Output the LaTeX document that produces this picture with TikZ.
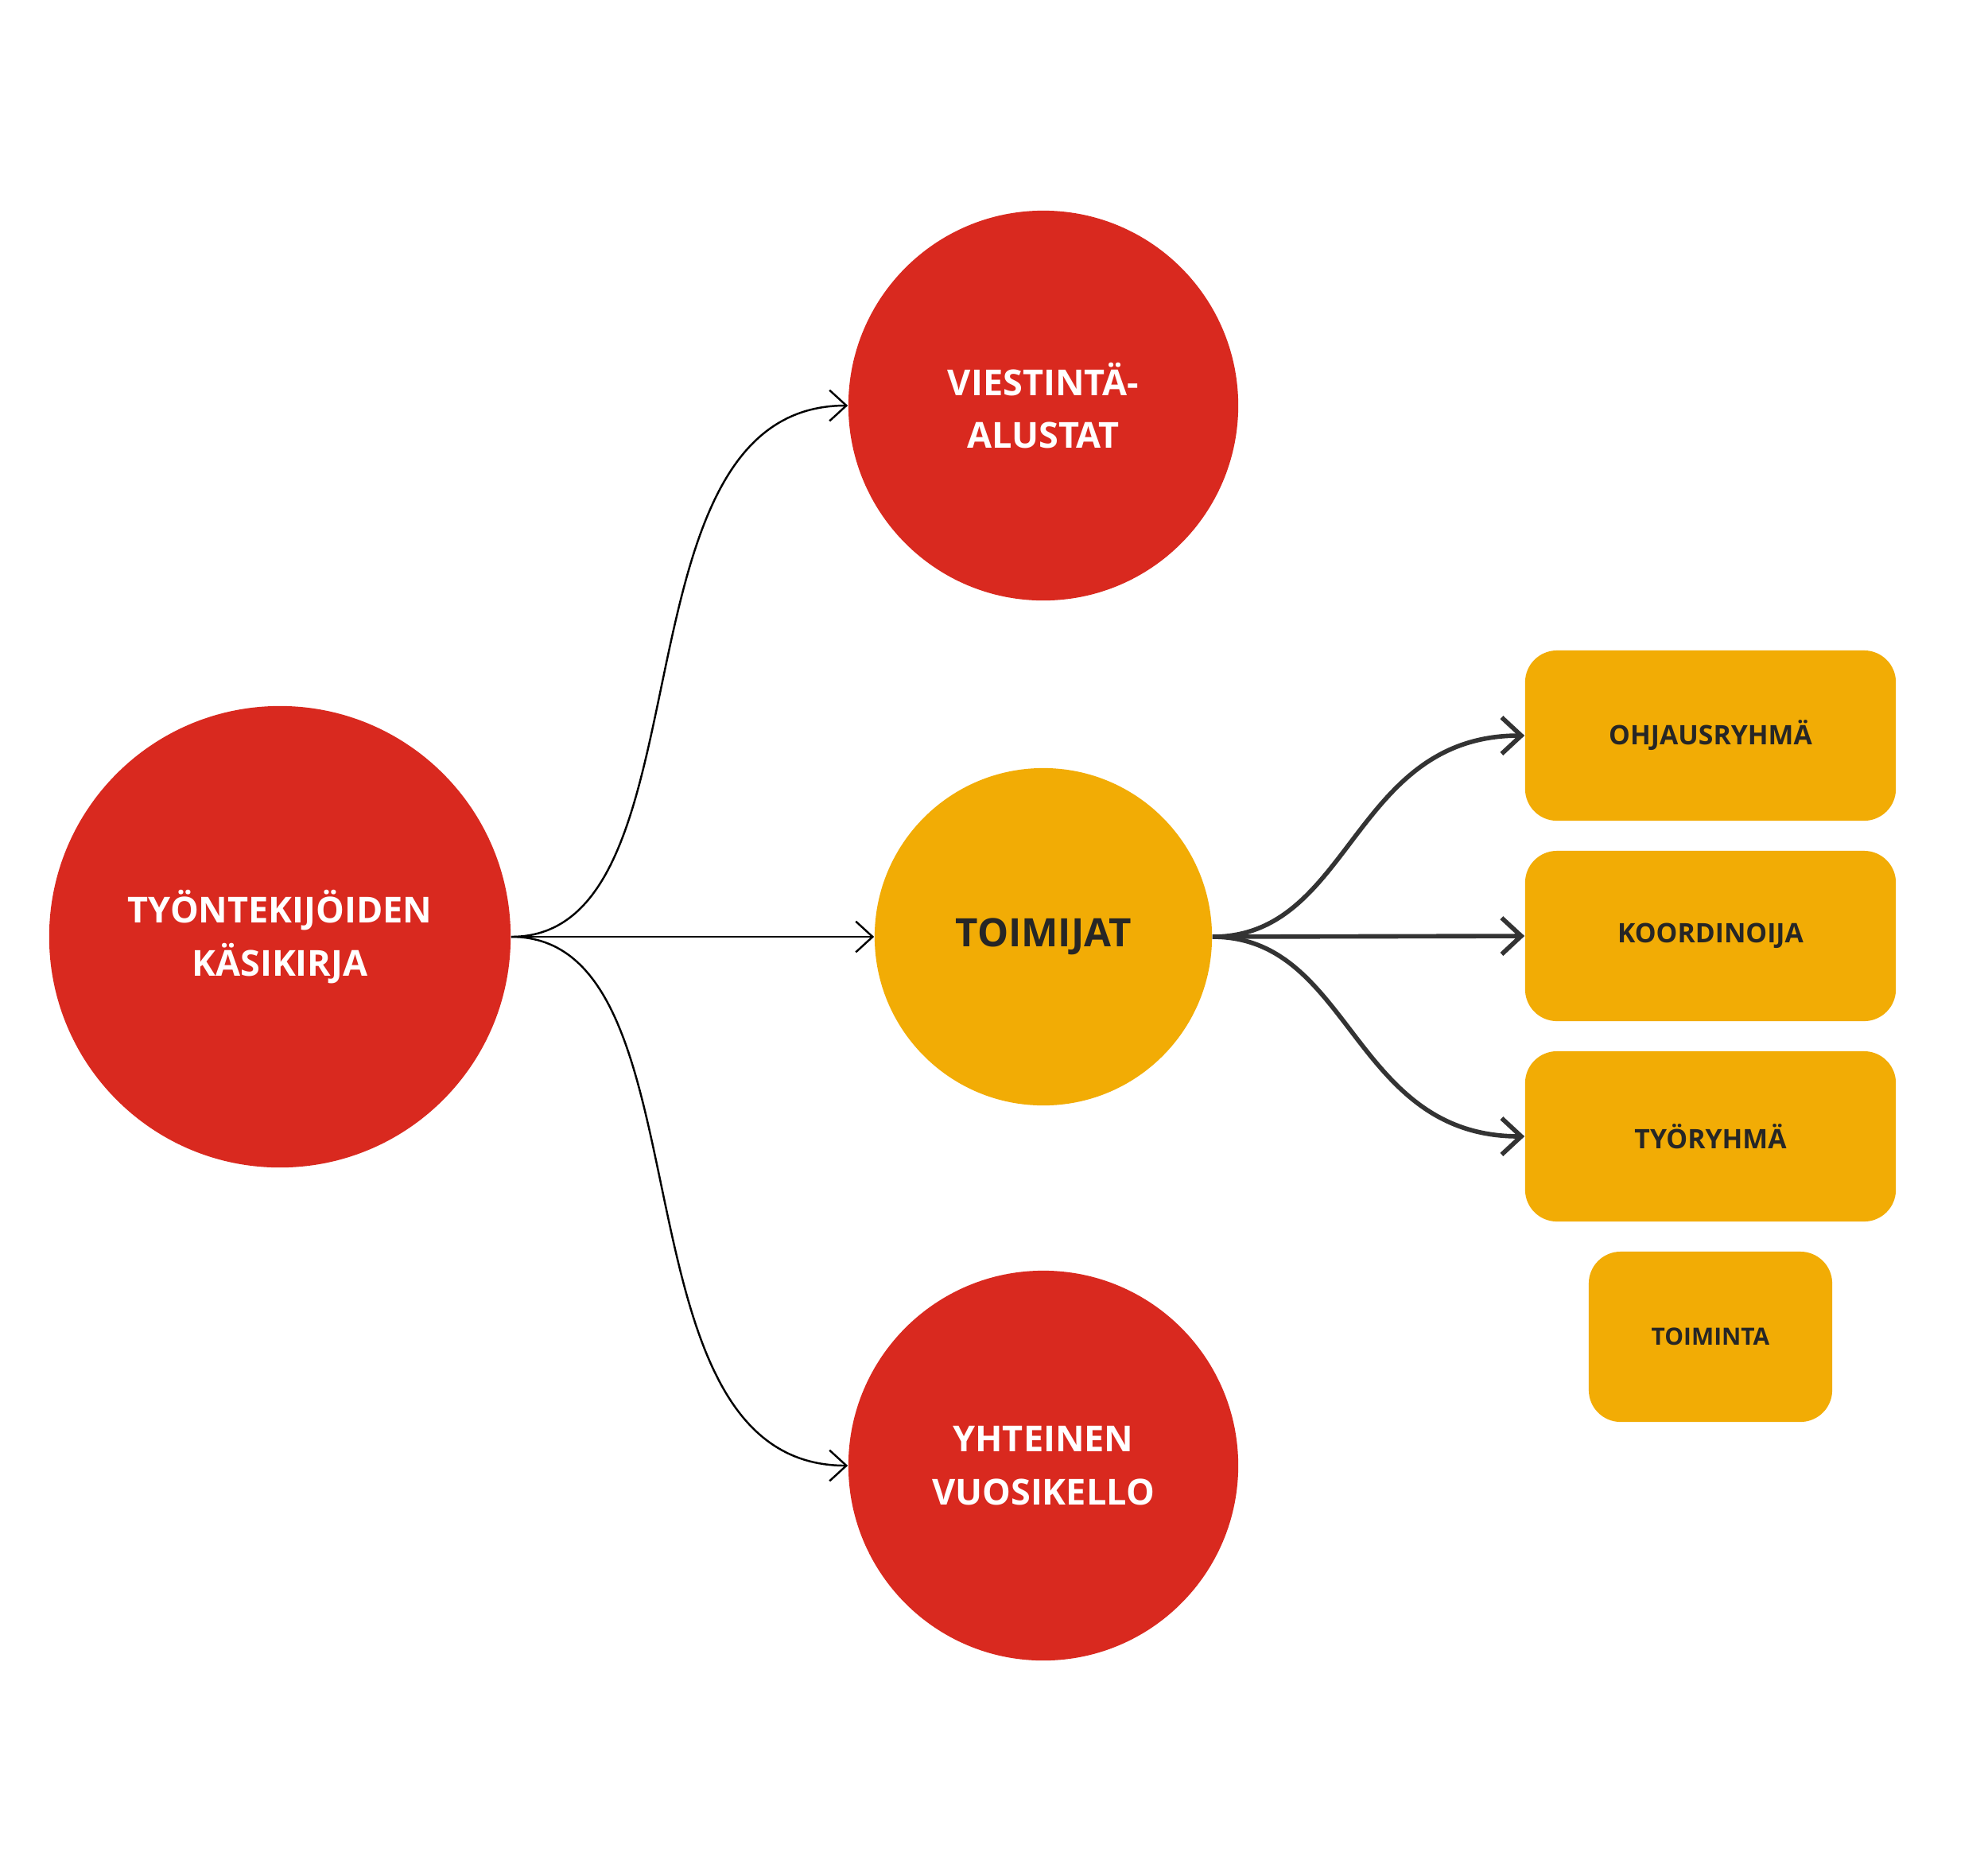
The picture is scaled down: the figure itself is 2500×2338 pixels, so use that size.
\documentclass[tikz,border=0pt]{standalone}
\usepackage{fontspec}
\setmainfont{Open Sans}
\usetikzlibrary{arrows.meta}
\definecolor{cred}{HTML}{D9291F}
\definecolor{cyel}{HTML}{F2AC05}
\definecolor{cdark}{HTML}{333333}
\begin{document}
\begin{tikzpicture}[x=0.01cm,y=-0.01cm,
 circ/.style={circle,inner sep=0pt,align=center,font=\bfseries\fontsize{12.8}{19}\selectfont},
 box/.style={rectangle,rounded corners=0.4cm,fill=cyel,minimum height=2.14cm,font=\bfseries\fontsize{9.6}{12}\selectfont,text=black!85},
 thin/.style={line width=0.7pt,-{Straight Barb[length=6pt,width=11pt]}},
 thick/.style={line width=1.6pt,cdark,-{Straight Barb[length=7pt,width=13pt]}}]
\useasboundingbox (0,0) rectangle (2500,2338);
\fill[white] (0,0) rectangle (2500,2338);
\node[circ,fill=cred,text=white,minimum size=5.8cm] (a) at (352,1178) {TYÖNTEKIJÖIDEN\\KÄSIKIRJA};
\node[circ,fill=cred,text=white,minimum size=4.9cm] (b) at (1312,510) {VIESTINTÄ-\\ALUSTAT};
\node[circ,fill=cyel,text=black!85,minimum size=4.24cm,font=\bfseries\fontsize{14}{18}\selectfont] (c) at (1312,1178) {TOIMIJAT};
\node[circ,fill=cred,text=white,minimum size=4.9cm] (d) at (1312,1843) {YHTEINEN\\VUOSIKELLO};
\node[box,minimum width=4.66cm] (e) at (2151,925) {OHJAUSRYHMÄ};
\node[box,minimum width=4.66cm] (f) at (2151,1177) {KOORDINOIJA};
\node[box,minimum width=4.66cm] (g) at (2151,1429) {TYÖRYHMÄ};
\node[box,minimum width=3.06cm,font=\bfseries\fontsize{8.5}{11}\selectfont] (h) at (2151,1681) {TOIMINTA};
\draw[thin] (a.east) .. controls (900,1178) and (760,510) .. (b.west);
\draw[thin] (a.east) -- (c.west);
\draw[thin] (a.east) .. controls (900,1178) and (760,1843) .. (d.west);
\draw[thick] (c.east) .. controls (1700,1178) and (1700,925) .. (e.west);
\draw[thick] (c.east) -- (f.west);
\draw[thick] (c.east) .. controls (1700,1178) and (1700,1429) .. (g.west);
\end{tikzpicture}
\end{document}
